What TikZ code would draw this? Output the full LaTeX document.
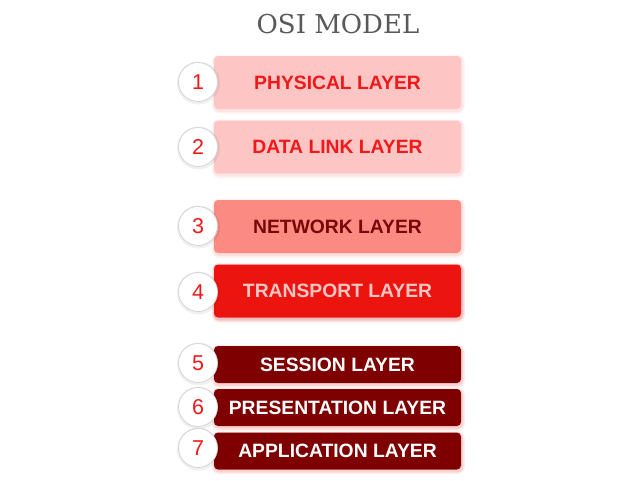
\documentclass[tikz,border=0pt]{standalone}
\usepackage{fontspec}
\setmainfont{Liberation Sans}
\newfontfamily\titlefont{DejaVu Serif}
\newfontfamily\numfont{Liberation Sans}
\usetikzlibrary{shadows}
\definecolor{pinkbox}{HTML}{FDC6C4}
\definecolor{salmonbox}{HTML}{FA8A82}
\definecolor{redbox}{HTML}{EC140F}
\definecolor{darkbox}{HTML}{7E0000}
\definecolor{redtext}{HTML}{F01818}
\definecolor{darktext}{HTML}{780808}
\definecolor{titlegray}{HTML}{595959}
\definecolor{circlegray}{HTML}{D4D4D4}
\tikzset{
  x=1pt, y=-1pt,
  softshadow/.style={
    general shadow={draw=#1, fill=none, line width=6pt, opacity=0.10, shadow xshift=0.8pt, shadow yshift=-1.8pt},
    general shadow={draw=#1, fill=none, line width=3pt, opacity=0.18, shadow xshift=0.8pt, shadow yshift=-1.5pt}},
  faintshadow/.style={
    general shadow={draw=#1, fill=none, line width=4pt, opacity=0.06, shadow xshift=0.5pt, shadow yshift=-1pt}},
  layerbox/.style={rectangle, rounded corners=4pt, minimum width=247pt, inner sep=0pt,
    font=\bfseries\fontsize{19.3}{21}\selectfont, anchor=center},
  tallbox/.style={layerbox, minimum height=53pt},
  flatbox/.style={layerbox, minimum height=37pt},
  numcircle/.style={circle, fill=white, draw=circlegray, line width=0.8pt, minimum size=39pt, inner sep=0pt,
    text=redtext, font=\numfont\fontsize{21.5}{22}\selectfont, faintshadow=black},
}
\begin{document}
\begin{tikzpicture}
\useasboundingbox (0,0) rectangle (640,480);
\fill[white] (0,0) rectangle (640,480);
\node[font=\titlefont\fontsize{26}{28}\selectfont, text=titlegray] (title) at (338,24) {OSI MODEL};

\node[tallbox, fill=pinkbox, text=redtext, softshadow=pinkbox!80!red] (l1) at (337.5,82.5) {PHYSICAL LAYER};
\node[tallbox, fill=pinkbox, text=redtext, softshadow=pinkbox!80!red] (l2) at (337.5,147) {DATA LINK LAYER};
\node[tallbox, fill=salmonbox, text=darktext, softshadow=salmonbox] (l3) at (337.5,226.5) {NETWORK LAYER};
\node[tallbox, fill=redbox, text=pinkbox, softshadow=redbox] (l4) at (337.5,291) {TRANSPORT LAYER};
\node[flatbox, fill=darkbox, text=white, softshadow=redbox!60!pinkbox] (l5) at (337.5,364.5) {SESSION LAYER};
\node[flatbox, fill=darkbox, text=white, softshadow=redbox!60!pinkbox] (l6) at (337.5,407.5) {PRESENTATION LAYER};
\node[flatbox, fill=darkbox, text=white, softshadow=redbox!60!pinkbox] (l7) at (337.5,451) {APPLICATION LAYER};

\node[numcircle] (c1) at (198,82) {1};
\node[numcircle] (c2) at (198,147) {2};
\node[numcircle] (c3) at (198,226) {3};
\node[numcircle] (c4) at (198,292) {4};
\node[numcircle] (c5) at (198,363) {5};
\node[numcircle] (c6) at (198,407) {6};
\node[numcircle] (c7) at (198,448) {7};
\end{tikzpicture}
\end{document}
